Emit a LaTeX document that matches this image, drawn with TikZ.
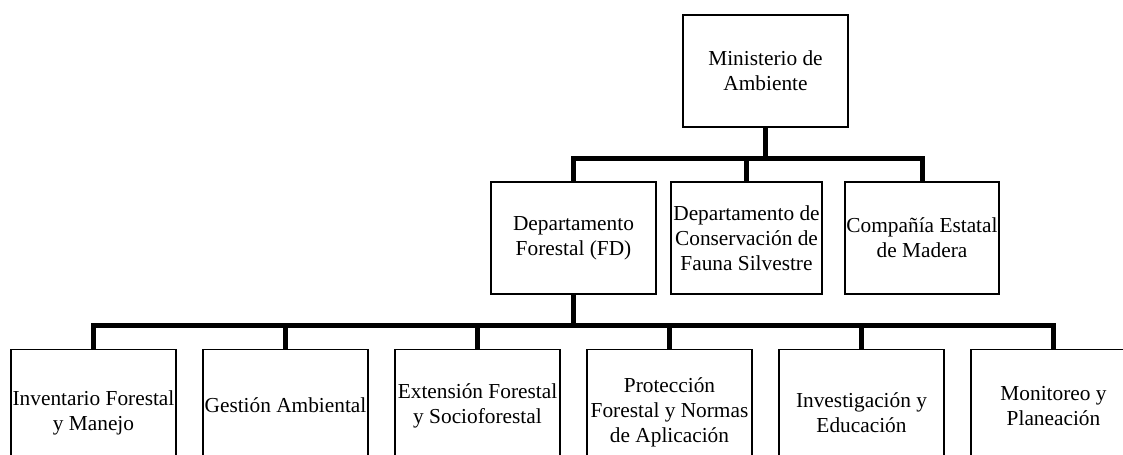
\documentclass[tikz,border=0pt]{standalone}
\usepackage{fontspec}
\setmainfont{Liberation Serif}
\usepackage{tikz}
\usetikzlibrary{positioning,calc}
\tikzset{
  % Unit box of the chart
  unit/.style={
    rectangle, draw=black, line width=1pt, fill=white,
    minimum height=84pt, inner sep=1pt,
    align=center, font=\fontsize{16}{18.75}\selectfont
  },
  % Lower row box, hanging from its top edge
  leaf/.style={
    unit, anchor=north, minimum width=123.75pt, minimum height=#1
  },
  % Thick connector line
  conn/.style={line width=3.75pt, color=black}
}
\begin{document}
\begin{tikzpicture}[x=0.75pt,y=-0.75pt]
  \useasboundingbox (0,0) rectangle (1123,454);

  % Top of the chart
  \node[unit, minimum width=123.75pt] (min) at (765.5,71) {Ministerio de\\Ambiente};

  % Second row
  \node[unit, minimum width=123.75pt] (fd)   at (573.5,238) {Departamento\\Forestal (FD)};
  \node[unit, minimum width=113.25pt] (dcfs) at (746.5,238) {Departamento de\\Conservación de\\Fauna Silvestre};
  \node[unit, minimum width=114pt]    (cem)  at (922,238)   {Compañía Estatal\\de Madera};

  % Divisions of the FD
  \node[leaf=94.5pt] (inv) at (93.5,349)   {Inventario Forestal\\y Manejo};
  \node[leaf=84pt]   (ges) at (285.5,349)  {Gestión Ambiental};
  \node[leaf=84pt]   (ext) at (477.5,349)  {Extensión Forestal\\y Socioforestal};
  \node[leaf=94.5pt] (pro) at (669.5,349)  {Protección\\Forestal y Normas\\de Aplicación};
  \node[leaf=94.5pt] (ied) at (861.5,349)  {Investigación y\\Educación};
  \node[leaf=84pt]   (mon) at (1053.5,349) {Monitoreo y\\Planeación};

  % Connectors
  \draw[conn] (min.south) -- ++(0,31) coordinate (busA);
  \draw[conn] (fd.north) |- (busA) -| (cem.north);
  \draw[conn] (dcfs.north) -- (dcfs.north |- busA);

  \draw[conn] (fd.south) -- ++(0,31) coordinate (busB);
  \draw[conn] (inv.north) |- (busB) -| (mon.north);
  \foreach \d in {ges,ext,pro,ied}
    \draw[conn] (\d.north) -- (\d.north |- busB);
\end{tikzpicture}
\end{document}
